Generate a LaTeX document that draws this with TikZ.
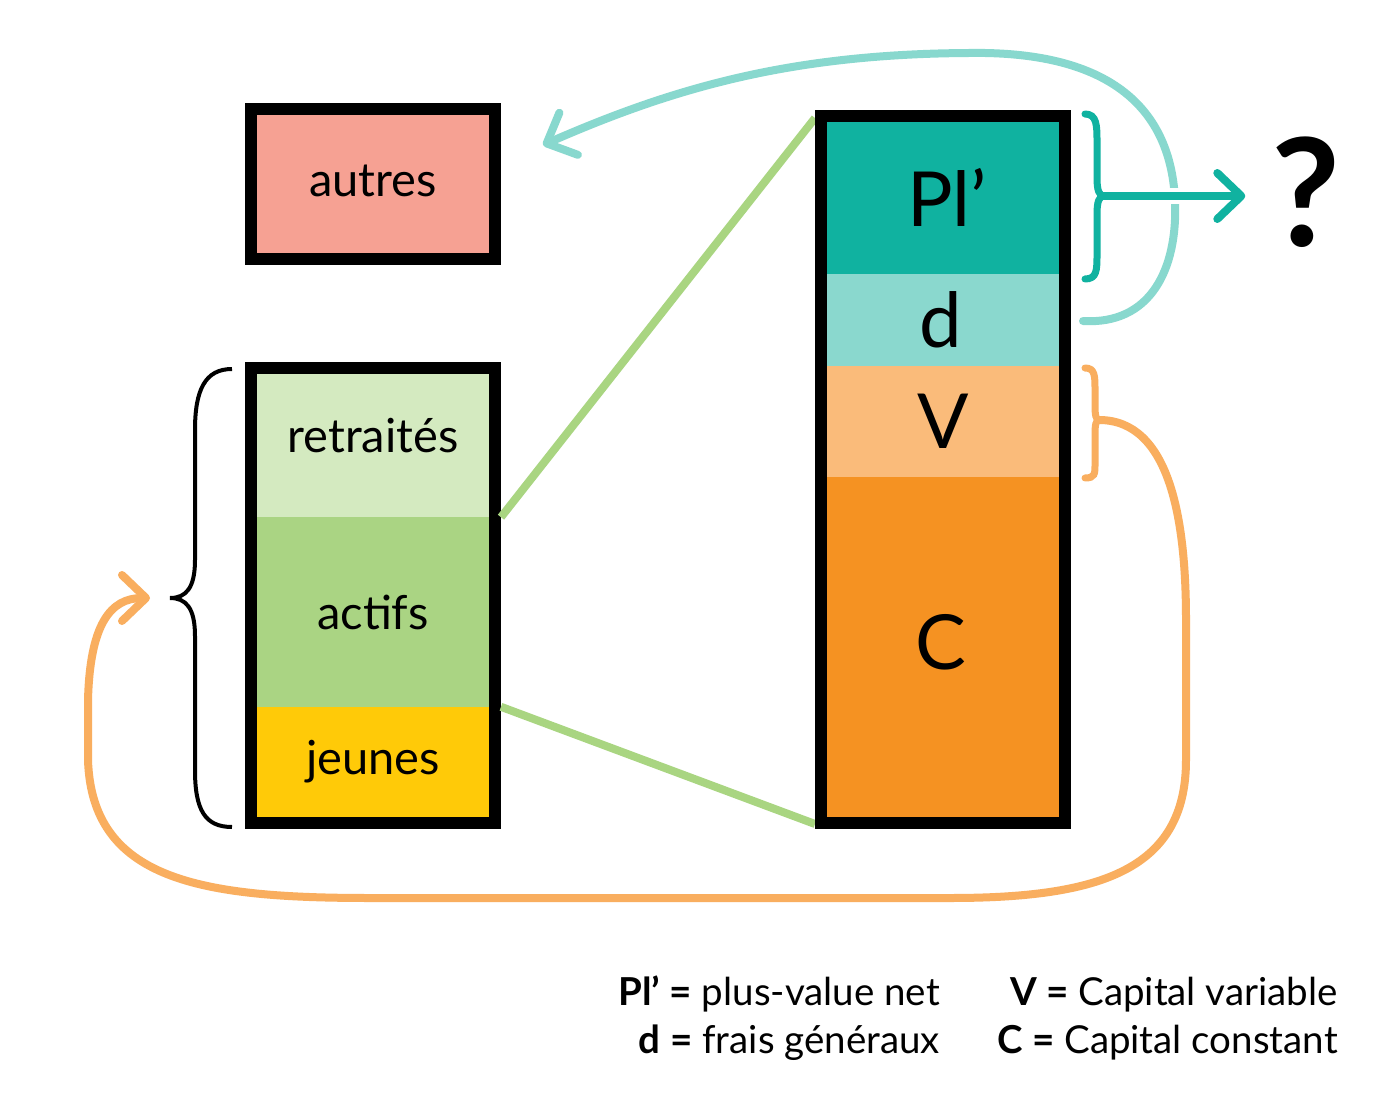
\documentclass[tikz,border=0pt]{standalone}
\usepackage{fontspec}
\setmainfont{Lato}
\usetikzlibrary{arrows.meta}
\definecolor{salmon}{HTML}{F6A193}
\definecolor{retc}{HTML}{D4EAC0}
\definecolor{actc}{HTML}{AAD483}
\definecolor{jeuc}{HTML}{FFCA08}
\definecolor{plc}{HTML}{10B2A0}
\definecolor{dc}{HTML}{8AD8CE}
\definecolor{vc}{HTML}{FABB7A}
\definecolor{cc}{HTML}{F59222}
\definecolor{lteal}{HTML}{88D8CE}
\definecolor{orangec}{HTML}{F9AE5F}
\definecolor{greenl}{HTML}{A9D581}
\begin{document}
\begin{tikzpicture}[x=1pt,y=-1pt,
  seg/.style={inner sep=0pt, minimum width=232pt, font=\fontsize{47}{52}\selectfont},
  bigseg/.style={inner sep=0pt, minimum width=232pt, font=\fontsize{76}{80}\selectfont},
  frame/.style={draw=black, line width=12pt, inner sep=0pt, minimum width=244pt},
  curve/.style={line width=8pt, line cap=round, line join=round},
  barb/.style={-{Straight Barb[length=24pt, width=46pt, line cap=round, line join=round]}},
  legend/.style={anchor=base east, inner sep=0pt, font=\fontsize{38.5}{44}\selectfont}
]
\useasboundingbox (0,0) rectangle (1400,1094);
\fill[white] (0,0) rectangle (1400,1094);

% autres
\node[frame, fill=salmon, minimum height=150pt, font=\fontsize{47}{52}\selectfont] (autres) at (373,184) {\raisebox{6pt}{autres}};

% left stack segments
\node[seg, fill=retc, minimum height=143pt] (ret) at (373,445.5) {\raisebox{21pt}{retraités}};
\node[seg, fill=actc, minimum height=190pt] (act) at (373,612) {actifs};
\node[seg, fill=jeuc, minimum height=110pt] (jeu) at (373,762) {\raisebox{-5pt}{jeunes}};
\node[frame, minimum height=455pt] (lframe) at (373,595.5) {};

% right stack segments
\node[bigseg, fill=plc, minimum height=152pt] (pl) at (943,198) {\hspace{8pt}\raisebox{2pt}{Pl’}};
\node[bigseg, fill=dc, minimum height=92pt] (dd) at (943,320) {\hspace{-4pt}d};
\node[bigseg, fill=vc, minimum height=111pt] (vv) at (943,421.5) {\raisebox{-4pt}{V}};
\node[bigseg, fill=cc, minimum height=340pt] (cc) at (943,647) {\hspace{-4pt}\raisebox{10pt}{C}};

% green connectors (behind right frame)
\draw[greenl, line width=8pt] (ret.south -| lframe.east) -- (815,118);
\draw[greenl, line width=8pt] (jeu.north -| lframe.east) -- (815,824);
\node[frame, minimum height=707pt] (rframe) at (943,469.5) {};

% question mark
\node[inner sep=0pt, font=\fontsize{150}{150}\selectfont\bfseries] (q) at (1306,192) {?};

% light teal curve from d to autres
\coordinate (dstart) at (1083,321);
\draw[lteal, curve, barb] (dstart) .. controls (1150,325) and (1178,270) .. (1175,200)
  .. controls (1170,100) and (1100,55) .. (985,53)
  .. controls (800,52) and (680,85) .. ([xshift=42pt]autres.east |- 0,145) ;

% teal brace and arrow
\coordinate (ttip) at (1104,196);
\draw[plc, line width=7pt, line cap=round] (1085,114) .. controls (1097,114) and (1097,126) .. (1097,142) -- (1097,178)
  .. controls (1097,190) and (1099,196) .. (ttip)
  .. controls (1099,196) and (1097,202) .. (1097,214) -- (1097,254)
  .. controls (1097,270) and (1097,279) .. (1085,279);
\draw[white, line width=16pt] (ttip) -- ([xshift=-28pt]ttip -| q.west);
\draw[plc, curve, barb] (ttip) -- ([xshift=-26pt]ttip -| q.west);

% orange brace
\coordinate (otip) at (1099,420);
\draw[orangec, line width=7pt, line cap=round] (1085,368) .. controls (1095,368) and (1095,376) .. (1095,390) -- (1095,406)
  .. controls (1095,415) and (1096,420) .. (otip)
  .. controls (1096,420) and (1095,425) .. (1095,434) -- (1095,464)
  .. controls (1095,474) and (1095,478) .. (1085,478);

% black brace left
\coordinate (btip) at (170,598);
\draw[black, line width=4pt] (232,369) .. controls (205,369) and (195,390) .. (195,430) -- (195,560)
  .. controls (195,588) and (186,598) .. (btip)
  .. controls (186,598) and (195,608) .. (195,636) -- (195,770)
  .. controls (195,810) and (205,827) .. (232,827);

% orange curve from V to the left brace
\draw[orangec, curve, barb] (otip) .. controls (1170,420) and (1186,520) .. (1186,620) -- (1186,760)
  .. controls (1186,870) and (1100,898) .. (950,898) -- (370,898)
  .. controls (200,898) and (92,880) .. (88,760) -- (88,700)
  .. controls (90,625) and (110,598) .. ([xshift=-20pt]btip);

% legend
\node[legend] (l1) at (940,1005) {\textbf{Pl’ =} plus-value net};
\node[legend] (l2) at (940,1053) {\textbf{d =} frais généraux};
\node[legend] (l3) at (1338,1005) {\textbf{V =} Capital variable};
\node[legend] (l4) at (1338,1053) {\textbf{C =} Capital constant};
\end{tikzpicture}
\end{document}
